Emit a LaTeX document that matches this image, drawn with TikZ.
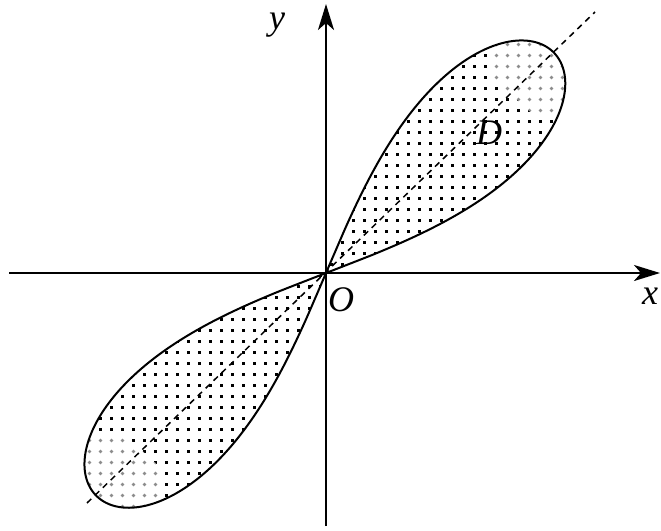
\documentclass[tikz,border=0pt]{standalone}
\usepackage{fontspec}
\setmainfont{Liberation Serif}
\usetikzlibrary{arrows.meta,patterns}
\pgfdeclarepatternformonly{bigdots}{\pgfqpoint{-1pt}{-1pt}}{\pgfqpoint{12pt}{12pt}}{\pgfqpoint{11pt}{11pt}}{%
  \pgfpathrectangle{\pgfqpoint{0pt}{0pt}}{\pgfqpoint{2.8pt}{2.8pt}}\pgfusepath{fill}}
\pgfdeclarepatternformonly{softdots}{\pgfqpoint{-3pt}{-3pt}}{\pgfqpoint{14pt}{14pt}}{\pgfqpoint{11pt}{11pt}}{%
  \pgfpathcircle{\pgfqpoint{1.5pt}{1.5pt}}{1.9pt}\pgfusepath{fill}}
\newcommand\upperlobe{plot[domain=21:67,samples=150,smooth] (-\x:{317*sqrt(abs(sin((\x-21)*180/46)))}) -- cycle}
\newcommand\lowerlobe{plot[domain=21:67,samples=150,smooth] (180-\x:{320*sqrt(abs(sin((\x-21)*180/46)))}) -- cycle}
\begin{document}
\begin{tikzpicture}[x=1pt,y=-1pt,
  axis/.style={line width=2.4pt,-{Stealth[length=26pt,width=16pt,inset=7pt]}},
  lobe/.style={line width=2pt},
  diag/.style={line width=1.5pt,dash pattern=on 6pt off 5pt},
  soft/.style={pattern=softdots,pattern color=black!45},
  lbl/.style={font=\fontsize{36}{40}\selectfont\itshape,inner sep=0pt}]
\useasboundingbox (0,0) rectangle (661,530);
\coordinate (O) at (326,273);
\coordinate (xs) at (9,273);
\coordinate (xe) at (660,273);
\coordinate (ys) at (326,526);
\coordinate (ye) at (326,4);
\coordinate (ds) at (87,503);
\coordinate (de) at (595,12);
% dotted fill
\fill[pattern=bigdots,shift={(O)}] \upperlobe;
\fill[pattern=bigdots,shift={(O)}] \lowerlobe;
% soft grey halftone patches
\begin{scope}
\clip[shift={(O)}] \upperlobe;
\fill[white] (493,28) -- (575,28) -- (575,116) -- (535,116) -- (493,78) -- cycle;
\fill[soft] (493,28) -- (575,28) -- (575,116) -- (535,116) -- (493,78) -- cycle;
\end{scope}
\begin{scope}
\clip[shift={(O)}] \lowerlobe;
\fill[white] (78,438) -- (128,438) -- (163,470) -- (163,522) -- (78,522) -- cycle;
\fill[soft] (78,438) -- (128,438) -- (163,470) -- (163,522) -- (78,522) -- cycle;
\end{scope}
% outlines
\draw[lobe,shift={(O)}] \upperlobe;
\draw[lobe,shift={(O)}] \lowerlobe;
\draw[diag] (ds) -- (de);
\draw[axis] (xs) -- (xe);
\draw[axis] (ys) -- (ye);
\node[lbl] (ly) at (277,25) {y};
\node[lbl] (lx) at (650,296) {x};
\node[lbl] (lo) at (341,300) {O};
\node[lbl] (ld) at (489,133) {D};
\end{tikzpicture}
\end{document}
